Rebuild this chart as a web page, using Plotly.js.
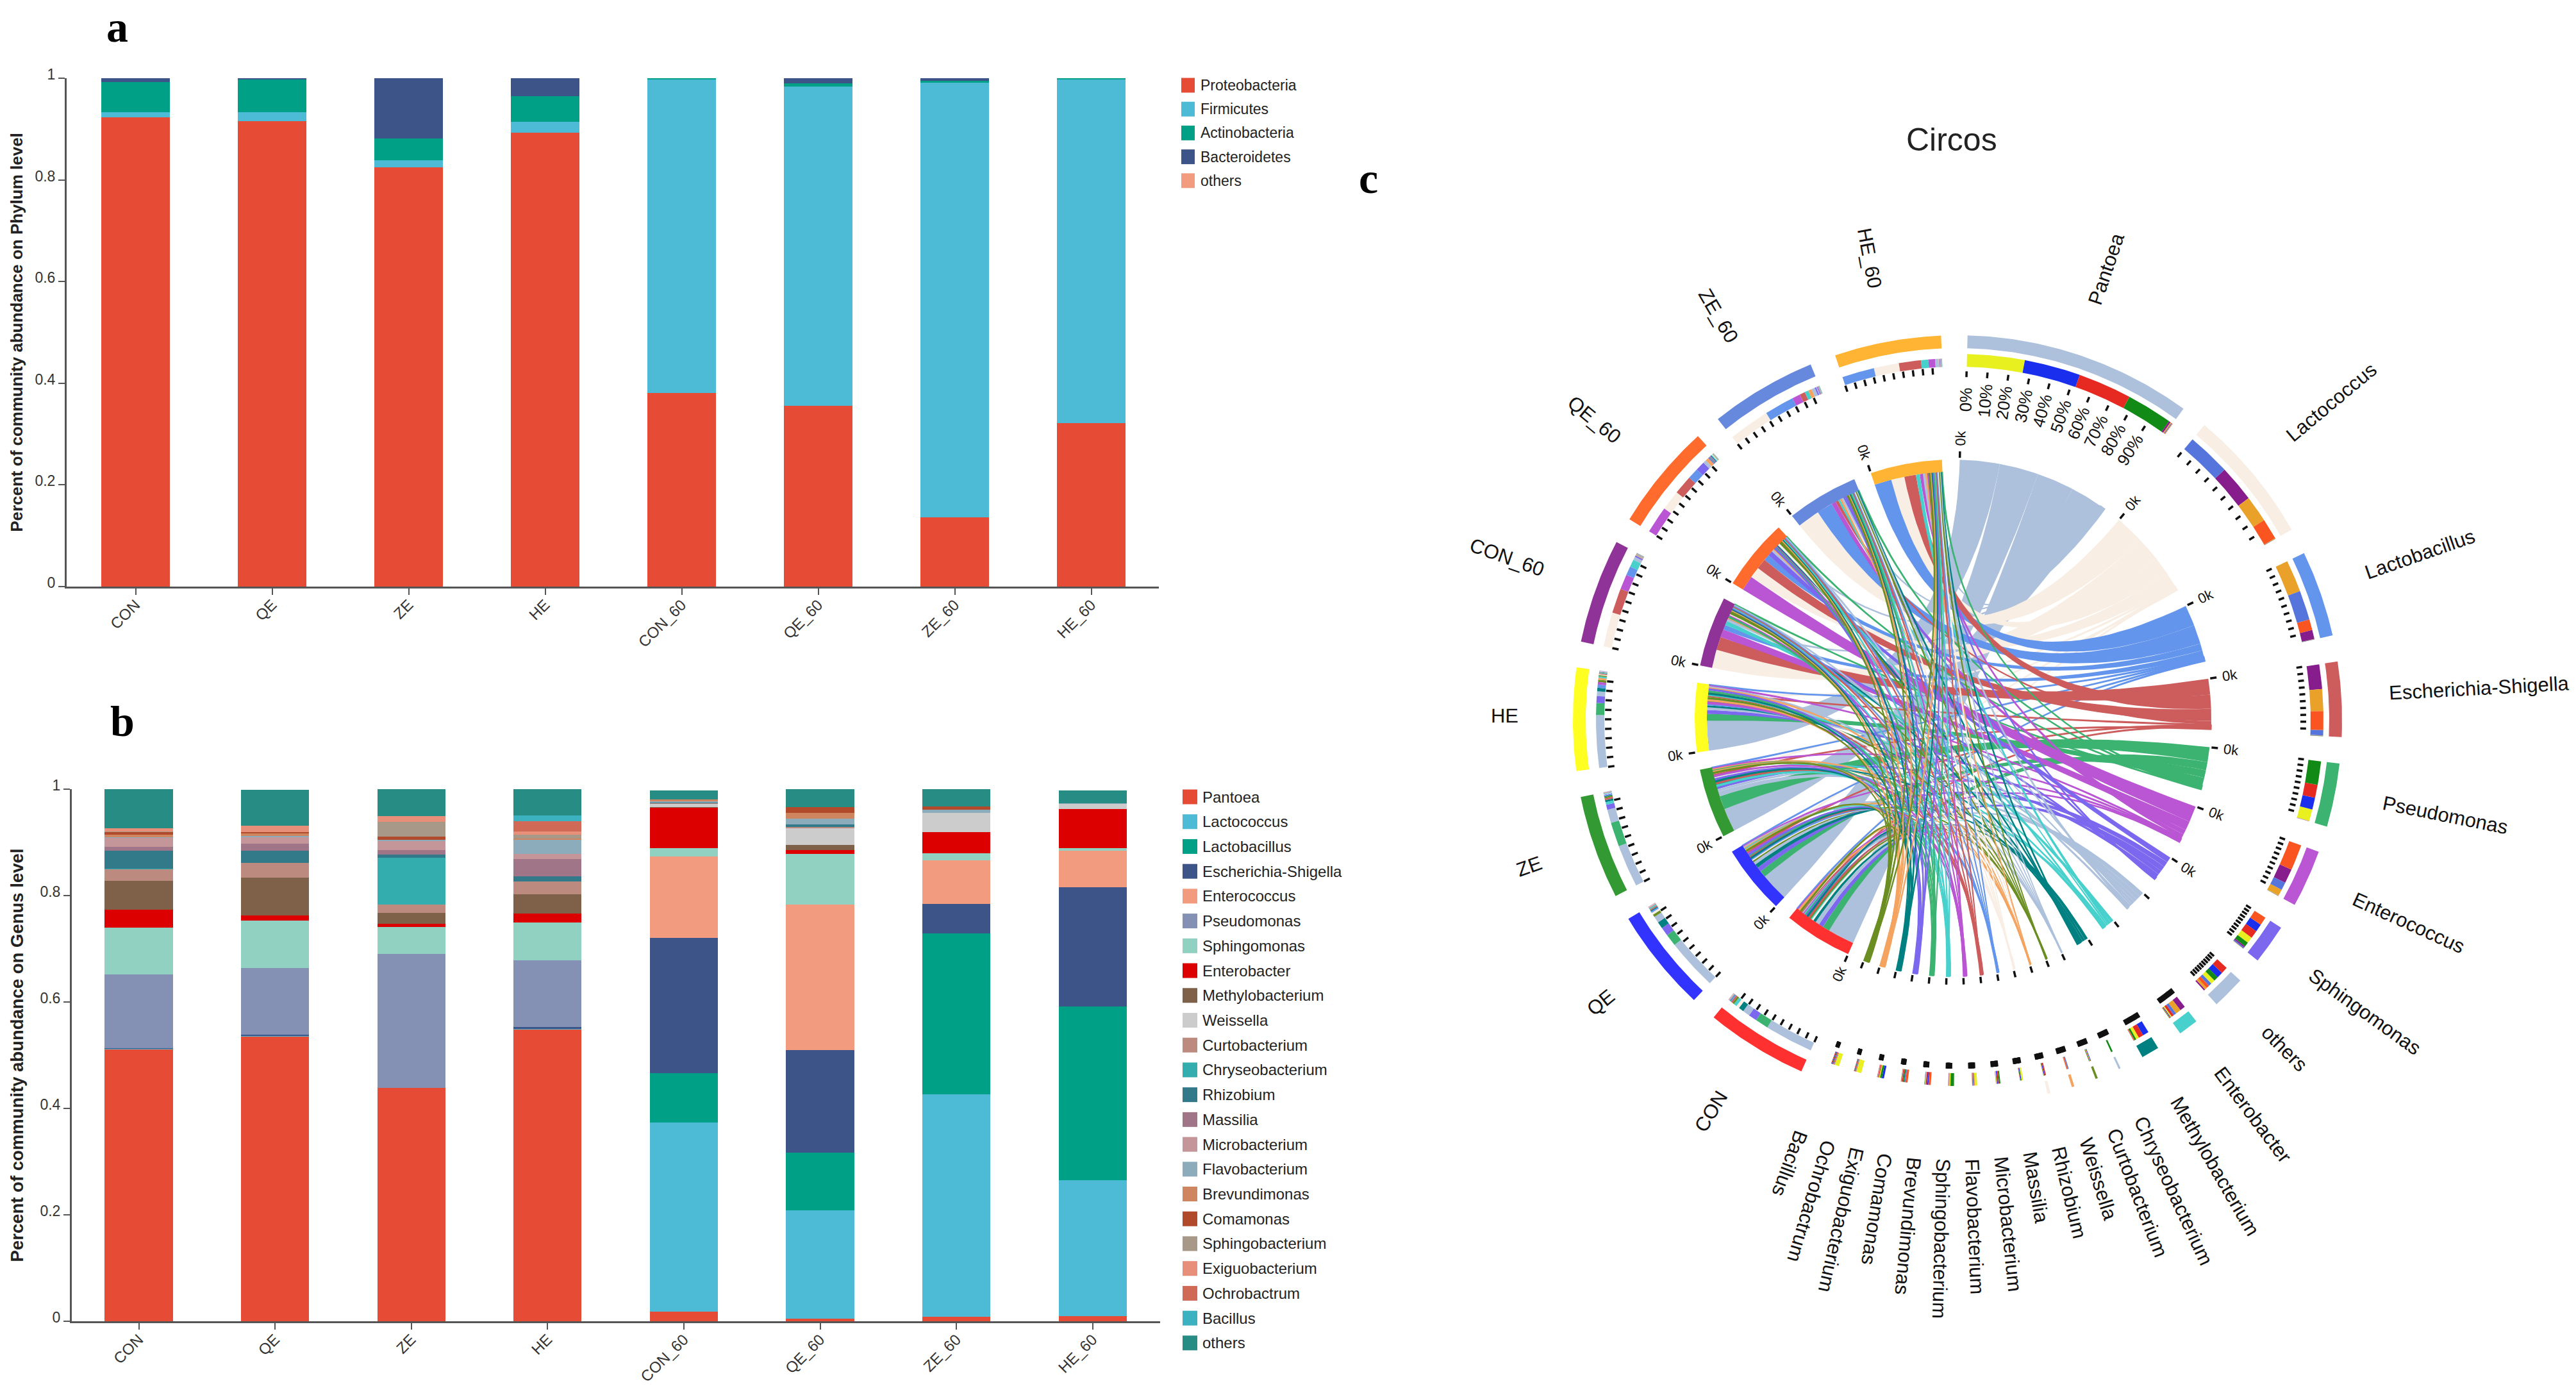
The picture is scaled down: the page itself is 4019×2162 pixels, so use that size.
<!DOCTYPE html>
<html><head><meta charset="utf-8">
<script src="https://cdn.plot.ly/plotly-3.0.0.min.js"></script>
<style>html,body{margin:0;padding:0;background:#fff}#g{width:4019px;height:2162px}</style>
</head><body><div id="g"></div>
<script>
// ---------- data ----------
const categories = ["CON","QE","ZE","HE","CON_60","QE_60","ZE_60","HE_60"];
const phylumNames = ["Proteobacteria","Firmicutes","Actinobacteria","Bacteroidetes","others"];
const phylumColors = ["#E64B35","#4DBBD5","#00A087","#3C5488","#F39B7F"];
const Proteobacteria = [.923,.916,.825,.893,.381,.356,.136,.321];
const Firmicutes     = [.010,.017,.013,.021,.616,.627,.855,.676];
const Actinobacteria = [.060,.064,.044,.051,.003,.007,.004,.003];
const Bacteroidetes  = [.007,.003,.118,.035,0,.010,.005,0];
const phylumOthers   = [0,0,0,0,0,0,0,0];
const phylumValues = [Proteobacteria,Firmicutes,Actinobacteria,Bacteroidetes,phylumOthers];

const genusNames = ["Pantoea","Lactococcus","Lactobacillus","Escherichia-Shigella","Enterococcus","Pseudomonas","Sphingomonas","Enterobacter","Methylobacterium","Weissella","Curtobacterium","Chryseobacterium","Rhizobium","Massilia","Microbacterium","Flavobacterium","Brevundimonas","Comamonas","Sphingobacterium","Exiguobacterium","Ochrobactrum","Bacillus","others"];
const genusColors = ["#E64B35","#4DBBD5","#00A087","#3C5488","#F39B7F","#8491B4","#91D1C2","#DC0000","#7E6148","#CCCCCC","#BC8A7E","#33ADAD","#327A8A","#A07587","#C49599","#8CACBB","#CE8560","#B04A2A","#A89888","#E88F7A","#D06A56","#3CB2C0","#268C84"];
const Pantoea          = [.511,.535,.438,.548,.018,.005,.008,.010];
const Lactococcus      = [.001,.001,.0005,.002,.355,.203,.419,.255];
const Lactobacillus    = [0,0,0,0,.093,.109,.302,.327];
const Escherichia      = [.001,.002,.0005,.003,.254,.193,.055,.224];
const Enterococcus     = [0,0,0,0,.153,.273,.082,.068];
const Pseudomonas      = [.139,.126,.251,.125,0,0,0,0];
const Sphingomonas     = [.088,.089,.051,.071,.016,.095,.014,.005];
const Enterobacter     = [.033,.010,.006,.017,.076,.007,.039,.074];
const Methylobacterium = [.055,.071,.021,.036,.001,.010,0,0];
const Weissella        = [0,0,0,0,.006,.032,.036,.009];
const Curtobacterium   = [.021,.027,.015,.024,.001,.002,0,0];
const Chryseobacterium = [.002,0,.088,0,0,0,0,0];
const Rhizobium        = [.033,.023,.006,.010,.002,.005,0,0];
const Massilia         = [.007,.014,.008,.033,0,0,0,0];
const Microbacterium   = [.017,.012,.018,.009,0,0,0,0];
const Flavobacterium   = [.002,.002,.002,.027,.002,.010,.006,.001];
const Brevundimonas    = [.004,.005,0,.002,.004,.011,0,0];
const Comamonas        = [.005,.002,.006,0,0,.011,.006,0];
const Sphingobacterium = [.002,0,.028,.008,0,0,0,0];
const Exiguobacterium  = [.005,.012,.010,.006,0,0,0,0];
const Ochrobactrum     = [0,0,0,.019,0,0,0,0];
const Bacillus         = [0,0,0,.011,0,0,0,0];
const genusOthers      = [.076,.068,.051,.049,.017,.034,.035,.025];
const genusValues = [Pantoea,Lactococcus,Lactobacillus,Escherichia,Enterococcus,Pseudomonas,Sphingomonas,Enterobacter,Methylobacterium,Weissella,Curtobacterium,Chryseobacterium,Rhizobium,Massilia,Microbacterium,Flavobacterium,Brevundimonas,Comamonas,Sphingobacterium,Exiguobacterium,Ochrobactrum,Bacillus,genusOthers];

// circos: sectors, clockwise from the top
const circosOrder = ["Pantoea","Lactococcus","Lactobacillus","Escherichia-Shigella","Pseudomonas","Enterococcus","Sphingomonas","others","Enterobacter","Methylobacterium","Chryseobacterium","Curtobacterium","Weissella","Rhizobium","Massilia","Microbacterium","Flavobacterium","Sphingobacterium","Brevundimonas","Comamonas","Exiguobacterium","Ochrobactrum","Bacillus"];
const circosSize = [34.5,20.4,13,11.3,9.6,8.7,6,5,3,2.7,1.6,1.5,1.4,1.2,1.1,1,.9,.8,.7,.6,.5,.4,.4];
const circosSmallChord = [.3,.35,.4,.45,.55,.7,.8,.9,1,1.1,1.1,1.2,1.3];
const circosSampleSize = [15.4,15.6,15.7,15.5,15.8,16.1,16.1,16.1];
const circosSpeciesColors = ["#ADC1DC","#F8EEE4","#6495ED","#CD5C5C","#3CB371","#BA55D3","#7B68EE","#ADC1DC","#48D1CC","#008080","#ADC1DC","#6B8E23","#F4A460","#F8EEE4","#6495ED","#CD5C5C","#BA55D3","#48D1CC","#3CB371","#7B68EE","#008080","#F4A460","#6B8E23"];
const sampleBandColors = ["#FF3030","#3333FF","#339933","#FFFF22","#8F3399","#FF6B2D","#6688DD","#FFB433"];
const sampleRingColors = ["#E62A22","#1A2EEE","#128B16","#E9F020","#871C8C","#FA5520","#5575DD","#E9A12A"];
const percentTicks = ["0%","10%","20%","30%","40%","50%","60%","70%","80%","90%"];

// ---------- page geometry ----------
const W=4019,H=2162;
const fx=v=>v/W, fy=v=>1-v/H;
const sans='"Liberation Sans", Arial, sans-serif', serif='"Liberation Serif", serif';
const traces=[], shapes=[], annotations=[];

// ---------- bars ----------
phylumNames.forEach((n,i)=>traces.push({type:'bar',name:n,x:categories,y:phylumValues[i],xaxis:'x',yaxis:'y',marker:{color:phylumColors[i],line:{width:0}},showlegend:false}));
genusNames.forEach((n,i)=>traces.push({type:'bar',name:n,x:categories,y:genusValues[i],xaxis:'x2',yaxis:'y2',marker:{color:genusColors[i],line:{width:0}},showlegend:false}));

function legend(names,colors,x0,y0,step,size,sw,sh,tx){
  names.forEach((n,i)=>{
    const y=y0+i*step;
    shapes.push({type:'rect',xref:'paper',yref:'paper',x0:fx(x0),x1:fx(x0+sw),y0:fy(y-sh/2),y1:fy(y+sh/2),fillcolor:colors[i],line:{width:0}});
    annotations.push({xref:'paper',yref:'paper',x:fx(tx),y:fy(y),text:n,showarrow:false,xanchor:'left',yanchor:'middle',font:{family:sans,size:size,color:'#222'}});
  });
}
legend(phylumNames,phylumColors,1843,133,37.2,23,21,23,1871);
legend(genusNames,genusColors,1845,1243,38.72,24,23,23,1874);

[["a",183,42],["b",191,1125],["c",2135,278]].forEach(l=>annotations.push({xref:'paper',yref:'paper',x:fx(l[1]),y:fy(l[2]),text:'<b>'+l[0]+'</b>',showarrow:false,xanchor:'center',yanchor:'middle',font:{family:serif,size:68,color:'#000'}}));

// ---------- circos ----------
const CX=3047,CY=1120;                     // inner circle centre, page pixels
const OUT={x:7,y:-3}, LAB={x:2,y:2}, IN={x:0,y:0}; // ring and label centres relative to it
const R={bandOut:600,bandIn:580,spRingOut:571,ringOut:564,ringIn:551,spTick:[535,544],saTick:[540,550],pctLabel:500,chordOut:403,chordIn:384,innerTick:[406,416],zero:437,label:680};
const nLarge=10, floorChord=.02, floorRing=.0015;
const rad=d=>d*Math.PI/180;
const pt=(r,d,c)=>[c.x+r*Math.sin(rad(d)),c.y+r*Math.cos(rad(d))];
const speciesIdx=circosOrder.map(n=>genusNames.indexOf(n));

// sector start angles
let cur=1.5;
const speciesStart=circosSize.map((sz,i)=>{const s=cur;cur+=i<nLarge?sz+3.95:3.75;return s;});
const sampleStart=circosSampleSize.map(sz=>{const s=cur;cur+=sz+3.9;return s;});
// spans on which ribbons and the composition ring lie
const speciesChordSpan=speciesStart.map((s,i)=>i<nLarge?[s,s+circosSize[i]]:[s-circosSmallChord[i-nLarge],s]);
const sampleSpan=sampleStart.map((s,i)=>[s,s+circosSampleSize[i]]);

function arcPts(r,a0,a1,c){const n=Math.max(2,Math.ceil(Math.abs(a1-a0)/0.5)+1),o=[];for(let i=0;i<n;i++)o.push(pt(r,a0+(a1-a0)*i/(n-1),c));return o;}
const colorPolys={};
function addArc(color,r0,r1,a0,a1,c){
  const p=arcPts(r1,a0,a1,c).concat(arcPts(r0,a1,a0,c));
  (colorPolys[color]=colorPolys[color]||[]).push(p);
}
// split a span proportionally, largest first, clockwise
function split(span,vals,floor){
  const v=vals.map(x=>Math.max(x,floor));
  const sum=v.reduce((a,b)=>a+b,0), order=v.map((x,i)=>i).sort((p,q)=>vals[q]-vals[p]||q-p);
  const out={};let a=span[0];
  order.forEach(i=>{const d=(span[1]-span[0])*v[i]/sum;out[i]=[a,a+d];a+=d;});
  return {out,order};
}
const speciesEnds=speciesIdx.map((g,i)=>split(speciesChordSpan[i],genusValues[g],floorChord).out);
const sampleEnds=categories.map((c,s)=>split(sampleSpan[s],speciesIdx.map(g=>genusValues[g][s]),floorChord).out);

// composition rings
speciesIdx.forEach((g,i)=>{
  const sp=split(speciesChordSpan[i],genusValues[g],floorRing);
  sp.order.forEach(s=>addArc(sampleRingColors[s],R.ringIn,R.spRingOut,sp.out[s][0],sp.out[s][1],OUT));
});
categories.forEach((c,s)=>{
  const sp=split(sampleSpan[s],speciesIdx.map(g=>genusValues[g][s]),floorRing);
  sp.order.forEach(i=>addArc(circosSpeciesColors[i],R.ringIn,R.ringOut,sp.out[i][0],sp.out[i][1],OUT));
});
// ribbons: later sectors lie on top of earlier ones; faint links keep a hairline stroke
function bez(p0,p2){const o=[];for(let k=0;k<=40;k++){const t=k/40,u=1-t;o.push([u*u*p0[0]+t*t*p2[0],u*u*p0[1]+t*t*p2[1]]);}return o;}
speciesIdx.forEach((g,i)=>{
  categories.forEach((c,s)=>{
    const a=speciesEnds[i][s],b=sampleEnds[s][i];
    const A=arcPts(R.chordOut,a[0],a[1],IN),B=arcPts(R.chordIn,b[0],b[1],IN);
    const p=A.concat(bez(A[A.length-1],B[0]),B,bez(B[B.length-1],A[0]));
    const thin=genusValues[g][s]<floorChord*1.5;
    traces.push({type:'scatter',mode:'lines',x:p.map(q=>q[0]),y:p.map(q=>q[1]),xaxis:'x3',yaxis:'y3',fill:'toself',fillcolor:circosSpeciesColors[i],line:{width:thin?1.6:0,color:circosSpeciesColors[i]},hoverinfo:'skip',showlegend:false});
  });
});
// outer bands
speciesChordSpan.forEach((s,i)=>{ if(i<nLarge+4) addArc(circosSpeciesColors[i],R.bandIn,R.bandOut,s[0],s[1],OUT); });
sampleSpan.forEach((s,i)=>{addArc(sampleBandColors[i],R.bandIn,R.bandOut,s[0],s[1],OUT);addArc(sampleBandColors[i],R.chordIn,R.chordOut,s[0],s[1],IN);});
Object.keys(colorPolys).forEach(c=>{
  const xs=[],ys=[];colorPolys[c].forEach(p=>{p.forEach(q=>{xs.push(q[0]);ys.push(q[1]);});xs.push(p[0][0]);ys.push(p[0][1]);xs.push(null);ys.push(null);});
  traces.push({type:'scatter',mode:'lines',x:xs,y:ys,xaxis:'x3',yaxis:'y3',fill:'toself',fillcolor:c,line:{width:0},hoverinfo:'skip',showlegend:false});
});
// ticks
const tx=[],ty=[];
function tick(rr,d,c){const a=pt(rr[0],d,c),b=pt(rr[1],d,c);tx.push(a[0],b[0],null);ty.push(a[1],b[1],null);}
speciesStart.forEach((s,i)=>{
  const sz=circosSize[i], a0=i<nLarge?s:s-sz/2;
  for(let k=0;k<percentTicks.length;k++)tick(R.spTick,a0+sz*k/percentTicks.length,OUT);
  tick(R.innerTick,s,IN);
});
sampleStart.forEach((s,i)=>{
  for(let k=0;k<percentTicks.length;k++)tick(R.saTick,s+circosSampleSize[i]*k/percentTicks.length,OUT);
  tick(R.innerTick,s,IN);
});
traces.push({type:'scatter',mode:'lines',x:tx,y:ty,xaxis:'x3',yaxis:'y3',line:{color:'#111',width:3.5},hoverinfo:'skip',showlegend:false});

// text
const ctx=document.createElement('canvas').getContext('2d');
function radial(r,d,text,size,fromInner,c){
  d=(d+360)%360;
  const right=d<203;
  const ang=right?d-90:d-270;
  let rc=r;
  if(fromInner){ctx.font=size+'px "Liberation Sans"';rc=r+ctx.measureText(text).width/2+10*Math.max(0,-Math.cos(rad(d)));}
  const p=pt(rc,d,c);
  annotations.push({xref:'x3',yref:'y3',x:p[0],y:p[1],text,showarrow:false,textangle:ang,xanchor:'center',yanchor:'middle',font:{family:sans,size,color:'#111'}});
}
circosOrder.forEach((n,i)=>radial(R.label,i<nLarge?speciesStart[i]+circosSize[i]/2:speciesStart[i],n,31,true,LAB));
categories.forEach((n,i)=>radial(R.label,sampleStart[i]+circosSampleSize[i]/2,n,31,true,LAB));
percentTicks.forEach((t,i)=>radial(R.pctLabel,speciesStart[0]+circosSize[0]*i/percentTicks.length,t,26,false,OUT));
speciesStart.slice(0,7).concat(sampleStart).forEach(s=>radial(R.zero,s,'0k',22,false,IN));
annotations.push({xref:'paper',yref:'paper',x:fx(3045),y:fy(218),text:'Circos',showarrow:false,xanchor:'center',yanchor:'middle',font:{family:sans,size:50,color:'#222'}});

// ---------- layout ----------
function yAxis(domPx,xanchor,titleText,titleSize,standoff){return {
  domain:[fy(domPx[1]),fy(domPx[0])],range:[0,1],anchor:xanchor,dtick:.2,tick0:0,showgrid:false,zeroline:false,
  showline:true,linecolor:'#555',linewidth:3,ticks:'outside',ticklen:10,tickwidth:2,tickcolor:'#555',ticklabelshift:-6,
  tickfont:{family:sans,size:23,color:'#333'},
  title:{text:'<b>'+titleText+'</b>',font:{family:sans,size:titleSize,color:'#222'},standoff}};}
function xAxis(domPx,left,right,yanchor){return {
  domain:[fx(domPx[0]),fx(domPx[1])],range:[left,right],anchor:yanchor,type:'category',categoryorder:'array',categoryarray:categories,
  showgrid:false,zeroline:false,showline:true,linecolor:'#555',linewidth:3,ticks:'outside',ticklen:10,tickwidth:2,tickcolor:'#555',ticklabelstandoff:-8,
  tickangle:-45,tickfont:{family:sans,size:24,color:'#333'}};}

const layout={
  width:W,height:H,autosize:false,margin:{l:0,r:0,t:0,b:0},paper_bgcolor:'#fff',plot_bgcolor:'rgba(0,0,0,0)',
  barmode:'stack',bargap:.5,showlegend:false,
  xaxis:xAxis([104,1808],-0.505,7.495,'y'),
  yaxis:yAxis([122,915],'x','Percent of community abundance on Phylum level',26,12),
  xaxis2:xAxis([112,1810],-0.4915,7.495,'y2'),
  yaxis2:yAxis([1231,2061],'x2','Percent of community abundance on Genus level',27.5,18),
  xaxis3:{domain:[fx(2100),1],range:[2100-CX,W-CX],anchor:'y3',visible:false,fixedrange:true},
  yaxis3:{domain:[0,1],range:[CY-H,CY],anchor:'x3',visible:false,fixedrange:true},
  shapes,annotations
};
Plotly.newPlot('g',traces,layout,{displayModeBar:false,staticPlot:true});
</script></body></html>
